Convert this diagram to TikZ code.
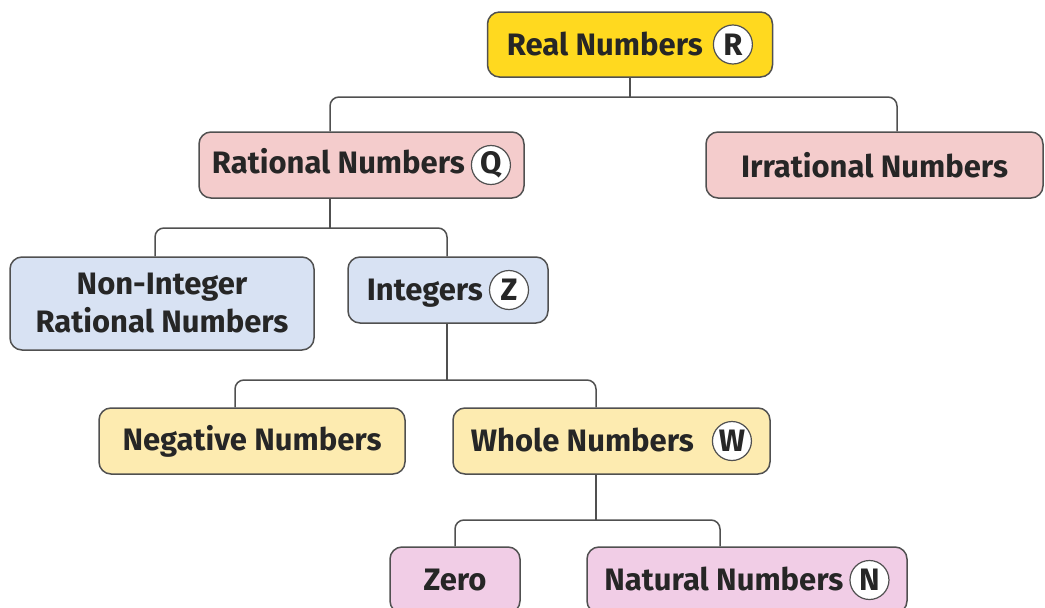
\documentclass[tikz,border=0pt]{standalone}
\usepackage{fontspec}
\setmainfont{Fira Sans}
\usepackage{tikz}
\usetikzlibrary{positioning}

\definecolor{linegray}{HTML}{505050}
\definecolor{realyellow}{HTML}{FFD91F}
\definecolor{ratpink}{HTML}{F4CCCC}
\definecolor{intblue}{HTML}{D8E2F3}
\definecolor{wholecream}{HTML}{FDEBB0}
\definecolor{natlilac}{HTML}{F1CDE6}

\tikzset{
  box/.style={draw=linegray, line width=1.5pt, rounded corners=12pt, inner sep=0pt,
    align=center, font=\bfseries\fontsize{31}{38}\selectfont, text=black!85},
  link/.style={draw=linegray, line width=1.5pt, rounded corners=9pt}
}
\newcommand\badge[1]{\tikz[baseline=(b.base)]\node[circle, draw=linegray, fill=white,
  line width=1.2pt, inner sep=0pt, minimum size=39pt] (b) {#1};}

\begin{document}
\begin{tikzpicture}[x=1pt, y=-1pt]
\useasboundingbox (0,0) rectangle (1045,608);
\node[box, fill=realyellow, minimum width=285, minimum height=65] (real) at (630,44.5) {Real Numbers\hspace{10pt}\badge{R}};
\node[box, fill=ratpink, minimum width=325, minimum height=66] (rational) at (361.5,165) {Rational Numbers\hspace{6pt}\badge{Q}};
\node[box, fill=ratpink, minimum width=337, minimum height=66] (irrational) at (874.5,165) {Irrational Numbers};
\node[box, fill=intblue, minimum width=304, minimum height=93] (noninteger) at (162,303.5) {Non-Integer\\Rational Numbers};
\node[box, fill=intblue, minimum width=200, minimum height=66] (integers) at (448,290) {Integers\hspace{6pt}\badge{Z}};
\node[box, fill=wholecream, minimum width=306, minimum height=66] (negative) at (252,441) {Negative Numbers};
\node[box, fill=wholecream, minimum width=317, minimum height=66] (whole) at (611.5,441) {Whole Numbers\hspace{18pt}\badge{W}};
\node[box, fill=natlilac, minimum width=130, minimum height=66] (zero) at (455,580) {Zero};
\node[box, fill=natlilac, minimum width=320, minimum height=66] (natural) at (747,580) {Natural Numbers\hspace{6pt}\badge{N}};

\coordinate (j1) at (630,97);
\coordinate (j2) at (330,228);
\coordinate (j3) at (447,380);
\coordinate (j4) at (596,520);

\draw[link] (real.south) -- (j1);
\draw[link] ([xshift=-31.5]rational.north) |- (j1) -| ([xshift=22.5]irrational.north);
\draw[link] ([xshift=-31.5]rational.south) -- (j2);
\draw[link] ([xshift=-7]noninteger.north) |- (j2) -| ([xshift=-1]integers.north);
\draw[link] ([xshift=-1]integers.south) -- (j3);
\draw[link] ([xshift=-17]negative.north) |- (j3) -| ([xshift=-15.5]whole.north);
\draw[link] ([xshift=-15.5]whole.south) -- (j4);
\draw[link] (zero.north) |- (j4) -| ([xshift=-27]natural.north);
\end{tikzpicture}
\end{document}
